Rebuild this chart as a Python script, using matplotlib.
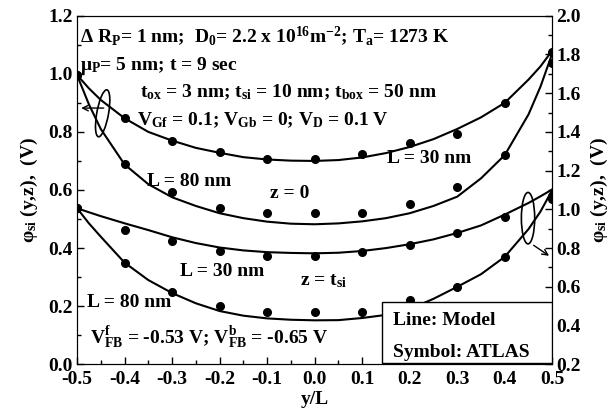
import matplotlib
matplotlib.use("Agg")
import matplotlib.pyplot as plt
from matplotlib.patches import Ellipse, Rectangle
from matplotlib.ticker import MultipleLocator, FormatStrFormatter

plt.rcParams['font.family'] = ['Liberation Serif', 'DejaVu Serif']
plt.rcParams['font.weight'] = 'bold'
plt.rcParams['mathtext.fontset'] = 'custom'
plt.rcParams['mathtext.rm'] = 'Liberation Serif:bold'
plt.rcParams['mathtext.it'] = 'Liberation Serif:bold'
plt.rcParams['mathtext.bf'] = 'Liberation Serif:bold'
plt.rcParams['mathtext.default'] = 'rm'

# model curves (lines) sampled along the channel
line_x = [-0.5, -0.475, -0.45, -0.4, -0.35, -0.3, -0.25, -0.2, -0.15, -0.1, -0.05,
          0.0, 0.05, 0.1, 0.15, 0.2, 0.25, 0.3, 0.35, 0.4, 0.45, 0.475, 0.5]
# z = 0 (left axis)
model_z0_L30 = [0.996, 0.95, 0.91, 0.847, 0.80, 0.77, 0.745, 0.728, 0.713, 0.705, 0.701,
                0.700, 0.703, 0.712, 0.727, 0.748, 0.775, 0.81, 0.85, 0.90, 0.98, 1.025, 1.08]
model_z0_L80 = [0.996, 0.895, 0.81, 0.688, 0.62, 0.575, 0.545, 0.52, 0.503, 0.491, 0.484,
                0.482, 0.485, 0.492, 0.503, 0.52, 0.545, 0.577, 0.64, 0.72, 0.86, 0.955, 1.07]
# z = t_si (right axis)
model_zt_L30 = [1.006, 0.985, 0.965, 0.928, 0.893, 0.856, 0.826, 0.803, 0.788, 0.779, 0.775,
                0.773, 0.776, 0.785, 0.80, 0.82, 0.845, 0.878, 0.917, 0.973, 1.033, 1.067, 1.103]
model_zt_L80 = [1.006, 0.928, 0.859, 0.725, 0.635, 0.568, 0.515, 0.475, 0.451, 0.437, 0.43,
                0.427, 0.428, 0.439, 0.455, 0.485, 0.538, 0.60, 0.665, 0.755, 0.898, 0.988, 1.10]

# ATLAS simulation points
sim_x = [-0.5, -0.4, -0.3, -0.2, -0.1, 0.0, 0.1, 0.2, 0.3, 0.4, 0.5]
atlas_z0_L30 = [0.996, 0.847, 0.769, 0.732, 0.706, 0.706, 0.723, 0.761, 0.793, 0.901, 1.076]
atlas_z0_L80 = [0.996, 0.688, 0.594, 0.539, 0.520, 0.520, 0.520, 0.551, 0.609, 0.720, 1.036]
atlas_zt_L30 = [1.006, 0.893, 0.838, 0.787, 0.761, 0.761, 0.778, 0.817, 0.877, 0.959, 1.052]
atlas_zt_L80 = [1.006, 0.724, 0.572, 0.503, 0.472, 0.469, 0.472, 0.532, 0.600, 0.755, 1.070]

fig = plt.figure(figsize=(6.15, 4.17), dpi=100)
ax = fig.add_axes([0.1252, 0.1264, 0.898 - 0.1252, 0.9624 - 0.1264])
ax2 = ax.twinx()

lw = 1.5
ms = 5.5
for y in (model_z0_L30, model_z0_L80):
    ax.plot(line_x, y, color='black', lw=lw)
for y in (atlas_z0_L30, atlas_z0_L80):
    ax.plot(sim_x, y, 'o', color='black', ms=ms)
for y in (model_zt_L30, model_zt_L80):
    ax2.plot(line_x, y, color='black', lw=lw)
for y in (atlas_zt_L30, atlas_zt_L80):
    ax2.plot(sim_x, y, 'o', color='black', ms=ms)

ax.set_xlim(-0.5, 0.5)
ax.set_ylim(0.0, 1.2)
ax2.set_ylim(0.2, 2.0)

ax.xaxis.set_major_locator(MultipleLocator(0.1))
ax.xaxis.set_minor_locator(MultipleLocator(0.05))
ax.yaxis.set_major_locator(MultipleLocator(0.2))
ax.yaxis.set_minor_locator(MultipleLocator(0.1))
ax2.yaxis.set_major_locator(MultipleLocator(0.2))
ax2.yaxis.set_minor_locator(MultipleLocator(0.1))
for a in (ax.xaxis, ax.yaxis, ax2.yaxis):
    a.set_major_formatter(FormatStrFormatter('%.1f'))

ax.tick_params(which='both', direction='in', top=False, right=False, labelsize=14)
ax.tick_params(axis='x', pad=5)
ax.tick_params(axis='y', pad=3)
ax.tick_params(which='major', length=5, width=1)
ax.tick_params(which='minor', length=3, width=1)
ax2.tick_params(which='both', direction='in', labelsize=14, pad=3)
ax2.tick_params(which='major', length=5, width=1)
ax2.tick_params(which='minor', length=3, width=1)
for lab in ax.get_xticklabels() + ax.get_yticklabels() + ax2.get_yticklabels():
    lab.set_fontweight('bold')

ax.set_xlabel('y/L', fontsize=14, fontweight='bold', labelpad=2)
ax.set_ylabel(r'φ$_\mathrm{si}$ (y,z),  (V)', fontsize=14, fontweight='bold', labelpad=6)
ax2.set_ylabel(r'φ$_\mathrm{si}$ (y,z),  (V)', fontsize=14, fontweight='bold', labelpad=6)

fs = 14
txt = dict(fontsize=fs, fontweight='bold', va='baseline', ha='left')
ax.text(-0.494, 1.108, r'Δ R$_\mathrm{P}$= 1 nm;  D$_\mathrm{0}$= 2.2 x 10$^\mathrm{16}$m$^\mathrm{-2}$; T$_\mathrm{a}$= 1273 K', **txt)
ax.text(-0.494, 1.013, r'μ$_\mathrm{P}$= 5 nm; t = 9 sec', **txt)
ax.text(-0.368, 0.919, r't$_\mathrm{ox}$ = 3 nm; t$_\mathrm{si}$ = 10 nm; t$_\mathrm{box}$ = 50 nm', **txt)
ax.text(-0.374, 0.823, r'V$_\mathrm{Gf}$ = 0.1; V$_\mathrm{Gb}$ = 0; V$_\mathrm{D}$ = 0.1 V', **txt)
ax.text(0.152, 0.692, 'L = 30 nm', **txt)
ax.text(-0.353, 0.615, 'L = 80 nm', **txt)
ax.text(-0.094, 0.571, 'z = 0', **txt)
ax.text(-0.283, 0.304, 'L = 30 nm', **txt)
ax.text(-0.031, 0.273, r'z = t$_\mathrm{si}$', **txt)
ax.text(-0.479, 0.198, 'L = 80 nm', **txt)
ax.text(-0.473, 0.070, r'V$_\mathrm{FB}^\mathrm{f}$ = -0.53 V; V$_\mathrm{FB}^\mathrm{b}$ = -0.65 V', **txt)

# ellipses grouping the curves with their axis
ax2.add_patch(Ellipse((-0.446, 0.2 + 1.5 * 0.864), 0.025, 1.5 * 0.162, angle=-4,
                      fill=False, lw=1.2, color='black'))
ax2.annotate('', xy=(-0.497, 0.2 + 1.5 * 0.882), xytext=(-0.438, 0.2 + 1.5 * 0.882),
             arrowprops=dict(arrowstyle='->', lw=1, color='black'))
ax2.add_patch(Ellipse((0.449, 0.2 + 1.5 * 0.503), 0.028, 1.5 * 0.177, angle=0,
                      fill=False, lw=1.2, color='black'))
ax2.annotate('', xy=(0.498, 0.2 + 1.5 * 0.368), xytext=(0.456, 0.2 + 1.5 * 0.415),
             arrowprops=dict(arrowstyle='->', lw=1, color='black'))

# legend box
ax2.add_patch(Rectangle((0.641, 0.004), 0.359, 0.175, transform=ax2.transAxes,
                        facecolor='white', edgecolor='black', lw=1, zorder=5))
ax2.text(0.665, 0.113, 'Line: Model', transform=ax2.transAxes, zorder=6, **txt)
ax2.text(0.665, 0.022, 'Symbol: ATLAS', transform=ax2.transAxes, zorder=6, **txt)

fig.savefig('out.png', dpi=100)
